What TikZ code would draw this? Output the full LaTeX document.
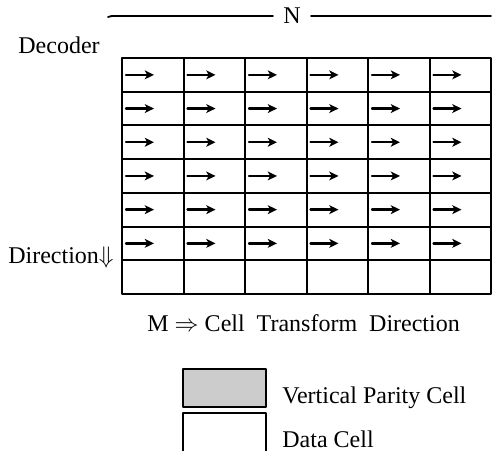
\documentclass[tikz,border=0pt]{standalone}
\usepackage{fontspec}
\setmainfont{Liberation Serif}
\usetikzlibrary{arrows.meta,calc}

\tikzset{
    gridline/.style={line width=1pt},
    cellarrow/.style={-{Stealth[length=4.6pt,width=4.4pt,inset=1.2pt]},line width=1.2pt},
    label/.style={inner sep=0pt}
}

\begin{document}
\begin{tikzpicture}[
    x=0.5pt, y=-0.5pt,
    line cap=round,
    line join=round,
    font=\fontsize{12}{14}\selectfont
]

% Parameters
\def\gx{122}
\def\gy{58}
\def\cw{61.5}
\def\rh{33.7}

\useasboundingbox (0,0) rectangle (492,450);

% Header: N across the columns
\node[inner sep=5pt] (N) at (292,16) {N};
\coordinate (Nl) at (108,17);
\coordinate (Nr) at (491,16);
\draw[line width=0.9pt] (Nl) to[out=20,in=180] ++(12,-1) -- (N);
\draw[line width=0.9pt] (N) -- (Nr);

% Side labels
\node[label,anchor=base west] (decoder) at (18,53) {Decoder};
\node[label,anchor=base east] (direction) at (114,263) {Direction$\Downarrow$};

% Cell array
\foreach \r in {0,...,6}
  \foreach \c in {0,...,5}
    \draw[gridline] ({\gx+\c*\cw},{\gy+\r*\rh}) rectangle ++(\cw,\rh);

% Transform direction arrows (data rows only)
\foreach \r in {0,...,5}
  \foreach \c in {0,...,5}
    \draw[cellarrow] ({\gx+\c*\cw+4},{\gy+(\r+0.5)*\rh}) -- ++(28,0);

% Caption
\node[label,anchor=base west] (caption) at (147,331)
    {M $\Rightarrow$ Cell\ \ Transform\ \ Direction};

% Legend
\fill[gray!40] (183,369) rectangle (266,407);
\draw[gridline] (183,369) rectangle (266,407);
\draw[gridline] (183,452) -- (183,413) -- (266,413) -- (266,452);
\node[label,anchor=base west] (parity) at (282,403) {Vertical Parity Cell};
\node[label,anchor=base west] (data) at (282,447) {Data Cell};

\end{tikzpicture}
\end{document}
